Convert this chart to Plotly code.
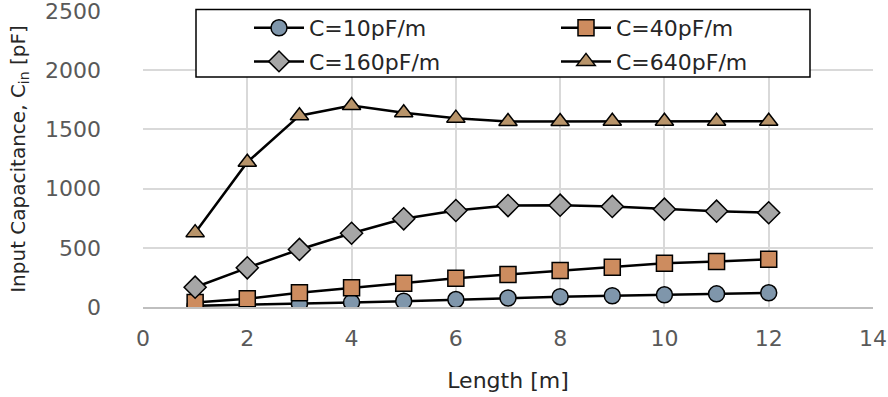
import plotly.graph_objects as go

length_m = [1, 2, 3, 4, 5, 6, 7, 8, 9, 10, 11, 12]
c10 = [10, 18, 28, 39, 49, 63, 76, 87, 95, 103, 111, 120]
c40 = [38, 70, 120, 162, 201, 243, 274, 308, 336, 370, 384, 404]
c160 = [167, 331, 486, 623, 745, 815, 857, 860, 849, 826, 809, 796]
c640 = [628, 1223, 1616, 1702, 1640, 1595, 1567, 1567, 1569, 1569, 1569, 1569]

series_names = ["C=10pF/m", "C=40pF/m", "C=160pF/m", "C=640pF/m"]
x_ticks = [0, 2, 4, 6, 8, 10, 12, 14]
y_ticks = [0, 500, 1000, 1500, 2000, 2500]

FONT = "DejaVu Sans"

styles = [
    dict(symbol="circle", color="#7f96ab", size=16, legend="legend"),
    dict(symbol="square", color="#cd8c5f", size=16, legend="legend2"),
    dict(symbol="diamond", color="#a6a6a6", size=17, legend="legend"),
    dict(symbol="triangle-up", color="#b8946a", size=16, legend="legend2"),
]

fig = go.Figure()
for name, vals, st in zip(series_names, [c10, c40, c160, c640], styles):
    fig.add_trace(go.Scatter(
        x=length_m, y=vals, name=name, mode="lines+markers",
        legend=st["legend"], legendgroup=name,
        line=dict(color="black", width=2.5),
        marker=dict(symbol=st["symbol"], color=st["color"], size=st["size"],
                    line=dict(color="black", width=1.5)),
    ))

W, H = 888, 397
PL, PR, PT, PB = 143, 873, 11, 307   # plot area in page px
L, R, T, B = PL, W - PR, PT, H - PB
pw = W - L - R
ph = H - T - B

def sx(px):
    return (px - PL) / pw

def sy(py):
    return (PB - py) / ph

fig.add_shape(type="rect", xref="paper", yref="paper",
              x0=sx(196), x1=sx(810), y0=sy(77), y1=sy(9.5),
              line=dict(color="black", width=1.5), fillcolor="white", layer="above")

legend_common = dict(
    orientation="v", xanchor="left", yanchor="top", y=sy(7),
    bgcolor="rgba(0,0,0,0)", borderwidth=0,
    font=dict(family=FONT, size=22, color="#262626"),
    itemwidth=50, tracegroupgap=2,
)

fig.update_layout(
    width=W, height=H, autosize=False,
    margin=dict(l=L, r=R, t=T, b=B, autoexpand=False),
    paper_bgcolor="white", plot_bgcolor="white",
    font=dict(family=FONT, size=22, color="#595959"),
    showlegend=True,
    legend=dict(x=sx(249), **legend_common),
    legend2=dict(x=sx(556), **legend_common),
    xaxis=dict(
        range=[0, 14], tickvals=x_ticks, showgrid=True, gridcolor="#d9d9d9", gridwidth=1.5,
        zeroline=False, showline=True, linecolor="#bfbfbf", linewidth=2,
        ticks="", ticklabelstandoff=11, ticklabeloverflow="allow",
        title=dict(text="Length [m]", font=dict(family=FONT, size=22, color="#262626"), standoff=22),
    ),
    yaxis=dict(
        range=[0, 2500], tickvals=y_ticks, showgrid=True, gridcolor="#d9d9d9", gridwidth=1.5,
        zeroline=False, showline=False, ticks="", ticklabelstandoff=41, ticklabeloverflow="allow",
        title=dict(text="Input Capacitance, C<sub>in</sub> [pF]",
                   font=dict(family=FONT, size=20, color="#262626"), standoff=14),
    ),
)

fig.write_html("out.html", config={"displayModeBar": False},
               post_script="document.body.style.margin='0';")
